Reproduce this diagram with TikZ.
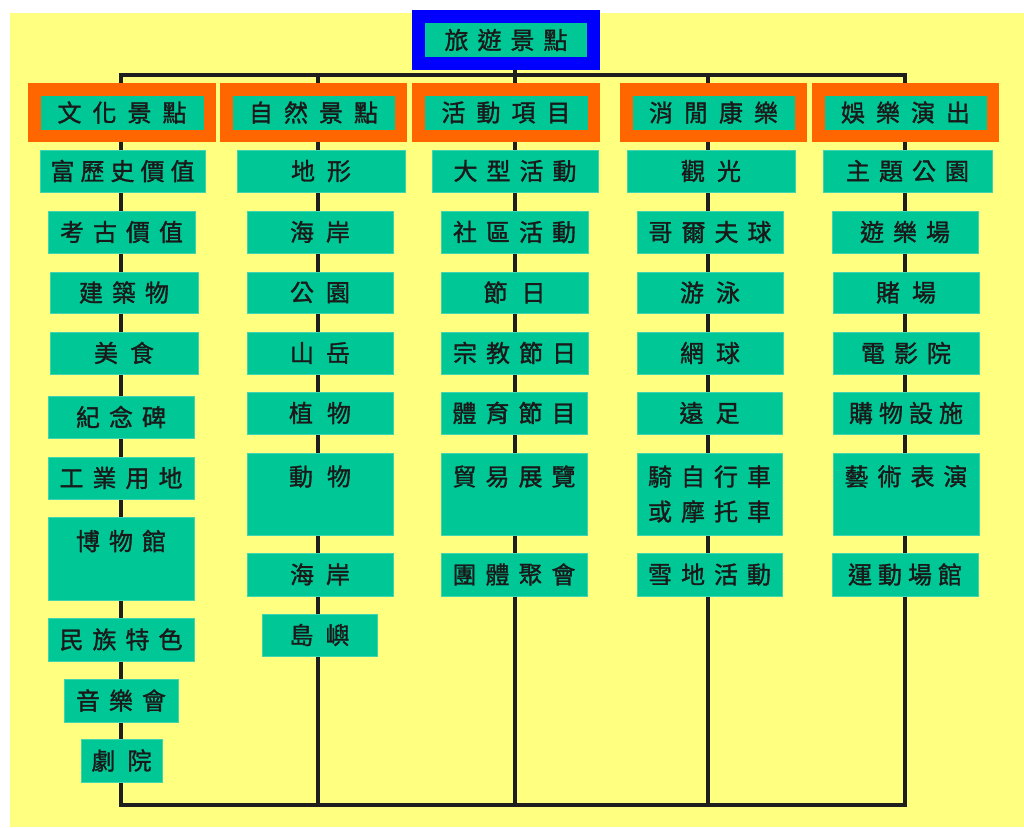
\documentclass[tikz,border=0pt]{standalone}
\usepackage{fontspec}
\newfontfamily\cjk[FakeBold=1.3]{Noto Sans CJK TC}
\makeatletter
\newcommand\spc[2][9pt]{\def\spc@sep{}\@tfor\spc@c:=#2\do{\spc@sep\spc@c\def\spc@sep{\hspace{#1}}}}
\makeatother
\definecolor{tgreen}{RGB}{0,199,150}
\definecolor{tyellow}{RGB}{255,255,128}
\definecolor{torange}{RGB}{255,102,0}
\definecolor{tblue}{RGB}{0,0,255}
\definecolor{tline}{RGB}{30,30,30}
\pgfdeclarelayer{bg}
\pgfdeclarelayer{lines}
\pgfsetlayers{bg,lines,main}
\tikzset{
  gbox/.style={fill=tgreen, draw=tgreen!75!white, line width=0.8pt, inner sep=0pt,
    font=\cjk\fontsize{24}{35}\selectfont, text=black!90, align=center},
  catbox/.style={gbox, draw=torange, line width=12.5pt, minimum height=46.5},
  rootbox/.style={gbox, draw=tblue, line width=13pt, minimum height=47},
  conn/.style={draw=tline, line width=3.5pt},
}
% child box by corners: name, x1, x2, y1, y2, text
\newcommand\cbox[6]{\node[gbox, minimum width={#3-#2}, minimum height={#5-#4}] (#1) at ({(#2+#3)/2},{(#4+#5)/2}) {#6};}
\begin{document}
\begin{tikzpicture}[x=1pt,y=-1pt]
\begin{pgfonlayer}{bg}
\fill[white] (0,0) rectangle (1024,827);
\fill[tyellow] (10,13) rectangle (1024,827);
\end{pgfonlayer}
\useasboundingbox (0,0) rectangle (1024,827);

% root and categories
\node[rootbox, minimum width=175] (root) at (506,40) {\spc{旅遊景點}};
\node[catbox, minimum width=175.5] (cat1) at (122,112.5) {\spc[11pt]{文化景點}};
\node[catbox, minimum width=174.5] (cat2) at (313.5,112.5) {\spc[11pt]{自然景點}};
\node[catbox, minimum width=175.5] (cat3) at (506,112.5) {\spc[11pt]{活動項目}};
\node[catbox, minimum width=174.5] (cat4) at (713.5,112.5) {\spc[11pt]{消閒康樂}};
\node[catbox, minimum width=174.5] (cat5) at (905.5,112.5) {\spc[11pt]{娛樂演出}};

% column 1
\cbox{a1}{40}{205}{150}{192}{\spc[6pt]{富歷史價值}}
\cbox{a2}{48}{195}{211}{253}{\spc{考古價值}}
\cbox{a3}{50}{198}{272}{313}{\spc{建築物}}
\cbox{a4}{50}{198}{332}{374}{\spc[12pt]{美食}}
\cbox{a5}{48}{194}{396}{438}{\spc{紀念碑}}
\cbox{a6}{48}{194}{457}{499}{\spc{工業用地}}
\cbox{a7}{48}{194}{517}{600}{\spc{博物館}\\\phantom{博}}
\cbox{a8}{48}{194}{618}{661}{\spc{民族特色}}
\cbox{a9}{64}{178}{679}{722}{\spc{音樂會}}
\cbox{a10}{81}{162}{739}{782}{\spc[12pt]{劇院}}

% column 2
\cbox{b1}{237}{405}{150}{192}{\spc[12pt]{地形}}
\cbox{b2}{247}{393}{211}{253}{\spc[12pt]{海岸}}
\cbox{b3}{247}{393}{272}{313}{\spc[12pt]{公園}}
\cbox{b4}{247}{393}{332}{374}{\spc[12pt]{山岳}}
\cbox{b5}{247}{393}{392}{434}{\spc[14pt]{植物}}
\cbox{b6}{247}{393}{453}{535}{\spc[14pt]{動物}\\\phantom{動}}
\cbox{b7}{247}{393}{553}{596}{\spc[12pt]{海岸}}
\cbox{b8}{262}{377}{614}{656}{\spc[12pt]{島嶼}}

% column 3
\cbox{c1}{432}{598}{150}{192}{\spc{大型活動}}
\cbox{c2}{441}{588}{211}{253}{\spc{社區活動}}
\cbox{c3}{441}{588}{272}{313}{\spc[14pt]{節日}}
\cbox{c4}{441}{588}{332}{374}{\spc{宗教節日}}
\cbox{c5}{441}{587}{392}{434}{\spc{體育節目}}
\cbox{c6}{441}{587}{453}{535}{\spc{貿易展覽}\\\phantom{貿}}
\cbox{c7}{441}{587}{553}{596}{\spc{團體聚會}}

% column 4
\cbox{d1}{627}{795}{150}{192}{\spc[12pt]{觀光}}
\cbox{d2}{637}{783}{211}{253}{\spc{哥爾夫球}}
\cbox{d3}{637}{783}{272}{313}{\spc[12pt]{游泳}}
\cbox{d4}{637}{783}{332}{374}{\spc[12pt]{網球}}
\cbox{d5}{637}{782}{392}{434}{\spc[12pt]{遠足}}
\cbox{d6}{637}{782}{453}{535}{\spc{騎自行車}\\\spc{或摩托車}}
\cbox{d7}{637}{782}{553}{596}{\spc{雪地活動}}

% column 5
\cbox{e1}{823}{992}{150}{192}{\spc{主題公園}}
\cbox{e2}{832}{978}{211}{253}{\spc{遊樂場}}
\cbox{e3}{833}{979}{272}{313}{\spc[12pt]{賭場}}
\cbox{e4}{833}{979}{332}{374}{\spc{電影院}}
\cbox{e5}{833}{979}{392}{434}{\spc[6pt]{購物設施}}
\cbox{e6}{833}{979}{453}{535}{\spc{藝術表演}\\\phantom{藝}}
\cbox{e7}{832}{978}{553}{596}{\spc[6pt]{運動場館}}

% bus coordinates
\coordinate (t1) at (121,75);  \coordinate (t2) at (318,75);
\coordinate (t3) at (515,75);  \coordinate (t4) at (708,75);
\coordinate (t5) at (905,75);
\coordinate (u1) at (121,805); \coordinate (u2) at (318,805);
\coordinate (u3) at (515,805); \coordinate (u4) at (708,805);
\coordinate (u5) at (905,805);

\begin{pgfonlayer}{lines}
\draw[conn] (root.south -| t3) -- (t3);
\draw[conn, line cap=rect] (t1) -- (t5);
\draw[conn, line cap=rect] (u1) -- (u5);
\foreach \i in {1,...,5} {\draw[conn] (t\i) -- (u\i);}
\end{pgfonlayer}
\end{tikzpicture}
\end{document}
